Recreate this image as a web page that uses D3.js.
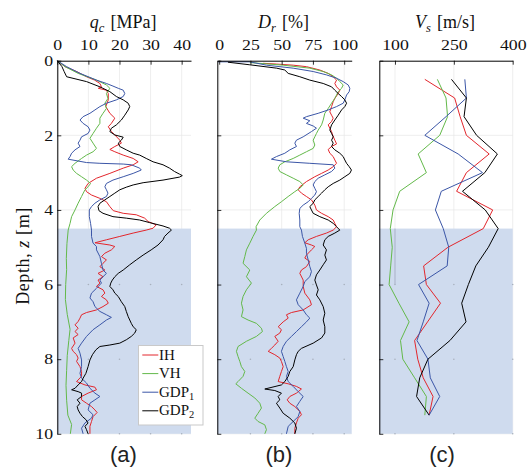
<!DOCTYPE html>
<html><head><meta charset="utf-8">
<script src="https://cdn.jsdelivr.net/npm/d3@7"></script>
<style>body{margin:0;background:#fff}svg{display:block}</style>
</head><body>
<script>
// ---------- DATA ----------
const depthTicks = [0, 2, 4, 6, 8, 10];
const qcTicks = [0, 10, 20, 30, 40];
const drTicks = [0, 25, 50, 75, 100];
const vsTicks = [100, 250, 400];
const layerDepth = [4.5, 10];
const seriesNames = ["IH", "VH", "GDP1", "GDP2"];

// q_c [MPa]  : [depth, value]
const qcIH = [[0,0],[0.16,2.5],[0.29,6.2],[0.43,9.4],[0.52,12.0],[0.61,13.7],[0.70,14.2],[0.74,13.2],[0.79,15.8],[0.88,16.4],[1.05,16.4],[1.23,15.6],[1.41,16.9],[1.54,18.5],[1.68,17.4],[1.77,16.4],[1.90,17.4],[1.99,18.5],[2.13,20.1],[2.21,20.6],[2.30,18.5],[2.38,16.9],[2.44,18.5],[2.53,21.2],[2.62,24.4],[2.71,26.0],[2.79,24.4],[2.88,21.2],[3.02,16.9],[3.15,12.6],[3.29,9.9],[3.42,8.9],[3.51,9.4],[3.60,11.0],[3.69,13.7],[3.78,15.8],[3.91,16.9],[4.02,18.0],[4.09,21.2],[4.13,25.4],[4.22,28.1],[4.31,29.2],[4.40,31.8],[4.49,30.8],[4.54,28.6],[4.62,24.4],[4.71,20.1],[4.80,15.8],[4.88,12.1],[4.94,16.9],[4.98,18.5],[5.07,17.4],[5.16,15.3],[5.25,14.2],[5.34,15.8],[5.43,14.7],[5.52,13.7],[5.61,15.3],[5.70,13.1],[5.79,14.7],[5.88,13.1],[5.96,13.7],[6.05,12.6],[6.14,14.7],[6.23,15.3],[6.32,14.2],[6.41,15.8],[6.50,16.4],[6.59,14.7],[6.68,12.6],[6.75,9.4],[6.81,7.8],[6.90,7.3],[6.99,6.7],[7.08,5.7],[7.17,6.7],[7.26,5.7],[7.34,6.7],[7.43,5.1],[7.57,5.7],[7.71,4.6],[7.79,5.1],[7.88,6.2],[7.97,6.7],[8.06,6.2],[8.20,7.3],[8.33,7.8],[8.46,7.8],[8.60,6.2],[8.69,8.9],[8.75,12.1],[8.82,12.6],[8.91,9.9],[9.00,7.8],[9.09,7.8],[9.18,9.4],[9.27,11.0],[9.36,12.1],[9.43,12.8],[9.54,11.5],[9.67,11.0],[9.80,10.5],[10.0,10.5]];
const qcVH = [[0,0],[0.16,2.5],[0.34,6.7],[0.52,12.6],[0.65,15.8],[0.74,16.9],[0.88,15.8],[1.01,16.3],[1.14,15.3],[1.28,15.8],[1.41,14.7],[1.54,13.7],[1.68,13.7],[1.81,12.6],[1.95,11.5],[2.08,10.5],[2.21,11.5],[2.35,12.6],[2.44,11.5],[2.53,9.4],[2.62,7.8],[2.75,5.7],[2.84,4.6],[2.93,5.1],[3.02,6.2],[3.11,7.8],[3.20,9.4],[3.29,10.7],[3.38,9.9],[3.46,8.9],[3.64,7.8],[3.82,6.7],[4.00,5.7],[4.18,4.6],[4.36,4.1],[4.54,3.5],[4.90,3.1],[5.30,2.9],[5.60,3.0],[6.00,2.7],[6.40,2.6],[6.80,3.2],[7.20,4.1],[7.50,3.7],[7.90,3.2],[8.30,3.0],[8.70,2.8],[9.10,3.0],[9.50,3.4],[9.75,4.6],[10.0,4.2]];
const qcGDP1 = [[0,0],[0.16,3.0],[0.34,7.3],[0.52,12.6],[0.61,15.8],[0.68,17.9],[0.74,19.6],[0.79,21.2],[0.88,21.7],[0.96,21.2],[1.05,19.0],[1.14,15.8],[1.23,13.7],[1.32,12.1],[1.41,10.5],[1.50,8.3],[1.59,7.3],[1.68,8.3],[1.77,9.9],[1.86,10.5],[1.95,9.9],[2.04,7.8],[2.13,7.3],[2.21,6.7],[2.30,7.3],[2.39,5.7],[2.48,4.6],[2.57,4.1],[2.64,3.5],[2.73,9.4],[2.75,13.7],[2.77,21.2],[2.79,23.8],[2.88,26.5],[2.93,27.0],[3.02,24.4],[3.11,21.2],[3.20,17.9],[3.29,15.8],[3.38,15.3],[3.46,15.8],[3.55,16.3],[3.64,15.8],[3.73,13.7],[3.82,12.1],[3.91,11.0],[4.00,10.3],[4.18,10.3],[4.36,10.7],[4.54,11.0],[4.71,11.0],[4.89,11.5],[4.98,12.6],[5.07,12.6],[5.25,13.7],[5.43,14.2],[5.61,14.7],[5.70,15.8],[5.79,14.7],[5.88,13.7],[5.96,14.2],[6.10,12.6],[6.23,11.0],[6.36,10.5],[6.46,11.5],[6.59,12.1],[6.72,13.7],[6.81,15.8],[6.88,17.4],[6.95,15.8],[7.08,13.7],[7.21,11.5],[7.39,9.4],[7.57,7.8],[7.71,6.7],[7.84,7.3],[8.02,7.8],[8.20,7.8],[8.38,7.3],[8.51,7.8],[8.64,9.4],[8.78,10.5],[8.91,12.1],[9.00,13.7],[9.09,12.1],[9.18,10.5],[9.36,9.9],[9.49,11.5],[9.58,11.0],[9.71,8.9],[9.85,7.8],[10.0,8.3]];
const qcGDP2 = [[0,0],[0.16,1.5],[0.29,2.2],[0.43,3.0],[0.56,9.4],[0.70,13.7],[0.83,16.9],[0.96,19.0],[1.05,21.2],[1.14,22.8],[1.23,23.3],[1.32,22.8],[1.46,21.7],[1.59,20.6],[1.72,19.0],[1.81,17.4],[1.90,16.9],[1.99,18.5],[2.05,21.2],[2.13,20.6],[2.21,19.6],[2.30,20.1],[2.39,22.2],[2.48,24.4],[2.53,26.5],[2.62,28.6],[2.71,30.8],[2.79,34.0],[2.88,36.1],[2.97,37.7],[3.04,39.3],[3.08,40.2],[3.12,39.3],[3.20,34.0],[3.27,27.6],[3.33,24.4],[3.39,22.2],[3.46,20.1],[3.55,18.5],[3.64,16.9],[3.73,15.3],[3.82,13.7],[3.91,13.1],[4.02,13.4],[4.09,14.7],[4.18,17.9],[4.22,22.2],[4.27,26.5],[4.34,29.7],[4.43,34.0],[4.49,36.1],[4.54,36.7],[4.62,35.6],[4.71,34.5],[4.80,34.0],[4.94,32.4],[5.07,30.2],[5.21,27.6],[5.34,25.4],[5.47,23.3],[5.61,21.2],[5.70,19.6],[5.79,18.5],[5.88,17.7],[5.96,17.2],[6.05,16.9],[6.14,17.9],[6.23,18.5],[6.32,19.6],[6.46,20.6],[6.59,21.7],[6.72,22.2],[6.86,22.8],[7.04,23.8],[7.13,24.4],[7.21,25.4],[7.30,24.9],[7.39,23.8],[7.48,22.2],[7.57,20.1],[7.62,16.9],[7.66,13.7],[7.75,12.4],[7.88,11.3],[8.02,10.5],[8.20,9.9],[8.38,9.2],[8.51,8.3],[8.60,7.8],[8.69,6.7],[8.78,5.7],[8.82,4.6],[8.87,6.7],[8.91,7.8],[9.00,7.8],[9.09,6.4],[9.18,7.3],[9.27,6.4],[9.36,6.7],[9.45,7.3],[9.54,8.1],[9.62,9.2],[9.71,9.9],[9.80,8.9],[9.89,9.4],[10.0,9.9]];

// D_r [%] : [depth, value]
const drIH = [[0.07,35.1],[0.09,45.8],[0.12,59.2],[0.16,69.8],[0.25,80.5],[0.34,87.2],[0.43,91.2],[0.52,93.9],[0.61,92.5],[0.70,93.9],[0.79,96.5],[0.88,95.2],[1.01,92.5],[1.10,91.2],[1.23,89.9],[1.37,88.5],[1.46,89.9],[1.54,91.2],[1.63,89.9],[1.72,87.2],[1.81,88.5],[1.90,89.9],[1.99,90.7],[2.13,92.5],[2.23,93.9],[2.30,89.9],[2.38,87.2],[2.48,88.5],[2.57,91.2],[2.66,92.5],[2.75,93.9],[2.84,91.2],[2.93,87.2],[3.02,81.9],[3.11,76.5],[3.24,69.8],[3.38,64.5],[3.46,63.2],[3.55,65.8],[3.64,69.8],[3.73,73.8],[3.87,76.5],[4.00,77.8],[4.09,81.9],[4.18,87.2],[4.27,91.2],[4.36,92.5],[4.45,93.9],[4.54,91.2],[4.62,85.8],[4.71,77.8],[4.80,71.2],[4.88,68.5],[4.94,73.8],[4.98,76.5],[5.07,73.8],[5.21,69.8],[5.29,68.5],[5.38,72.5],[5.52,69.8],[5.61,65.8],[5.70,64.5],[5.88,67.2],[6.05,67.2],[6.23,68.5],[6.41,72.5],[6.54,73.8],[6.68,67.2],[6.75,57.8],[6.81,53.8],[6.90,55.2],[7.00,51.2],[7.13,47.2],[7.21,49.8],[7.30,48.5],[7.39,44.5],[7.52,47.2],[7.62,44.5],[7.71,41.8],[7.79,39.2],[7.88,44.5],[7.97,48.5],[8.06,49.8],[8.20,51.2],[8.33,49.8],[8.46,48.5],[8.60,47.2],[8.66,55.2],[8.73,61.8],[8.80,65.8],[8.91,61.8],[9.00,56.5],[9.09,54.4],[9.18,56.5],[9.27,60.5],[9.40,64.5],[9.49,65.8],[9.58,63.2],[9.71,61.8],[9.85,60.5],[10.0,60.5]];
const drVH = [[0.05,24.5],[0.12,51.2],[0.20,72.5],[0.29,83.2],[0.38,89.9],[0.47,93.9],[0.56,96.5],[0.65,99.2],[0.74,97.9],[0.83,95.2],[0.92,93.9],[1.01,92.5],[1.14,89.9],[1.28,87.2],[1.41,84.5],[1.59,83.2],[1.72,81.9],[1.86,79.2],[1.95,77.8],[2.04,76.5],[2.13,75.2],[2.26,76.5],[2.35,75.2],[2.44,69.8],[2.53,64.5],[2.62,59.2],[2.71,52.5],[2.79,48.5],[2.88,47.2],[2.97,48.5],[3.06,53.8],[3.15,59.2],[3.24,64.5],[3.33,67.2],[3.42,64.5],[3.51,60.5],[3.64,55.2],[3.78,49.8],[3.91,44.5],[4.09,37.8],[4.27,32.5],[4.45,29.5],[4.54,29.8],[4.71,27.1],[4.89,24.5],[5.07,21.8],[5.25,20.5],[5.43,19.1],[5.61,24.5],[5.79,21.8],[5.96,25.8],[6.14,21.8],[6.32,19.1],[6.50,17.8],[6.68,19.1],[6.86,17.8],[6.95,23.1],[7.04,29.8],[7.17,33.8],[7.26,34.6],[7.39,29.8],[7.52,21.8],[7.66,15.1],[7.79,13.8],[7.93,15.1],[8.06,16.5],[8.20,17.8],[8.33,20.5],[8.46,19.1],[8.60,15.1],[8.66,13.3],[8.78,17.8],[8.91,23.1],[9.04,28.5],[9.18,32.5],[9.31,33.8],[9.45,31.1],[9.58,28.5],[9.67,31.1],[9.76,36.5],[9.89,37.8],[10.0,36.5]];
const drGDP1 = [[0.03,-1.0],[0.03,24.5],[0.12,37.8],[0.20,59.2],[0.29,75.2],[0.38,85.8],[0.47,93.9],[0.56,99.2],[0.65,103.2],[0.74,104.5],[0.83,104.0],[0.92,101.9],[1.05,100.5],[1.14,99.2],[1.23,93.9],[1.32,87.2],[1.41,79.2],[1.50,69.8],[1.54,67.2],[1.61,72.5],[1.68,69.8],[1.75,75.2],[1.81,77.8],[1.90,73.8],[2.04,67.2],[2.13,61.8],[2.21,60.5],[2.30,61.8],[2.39,56.5],[2.48,52.5],[2.57,45.8],[2.64,41.8],[2.71,53.8],[2.75,72.5],[2.79,91.2],[2.88,92.5],[2.97,89.9],[3.06,84.5],[3.15,79.2],[3.24,76.5],[3.33,75.2],[3.42,76.5],[3.51,77.8],[3.60,76.5],[3.69,73.8],[3.78,71.2],[3.87,67.2],[3.96,64.5],[4.09,64.0],[4.27,64.5],[4.45,64.5],[4.54,65.8],[4.71,66.6],[4.89,68.5],[5.03,69.8],[5.16,69.8],[5.34,71.2],[5.52,72.5],[5.65,73.8],[5.79,72.5],[5.92,68.5],[6.05,67.2],[6.23,64.5],[6.41,61.8],[6.54,63.2],[6.68,67.2],[6.81,69.8],[6.90,72.5],[7.00,69.8],[7.13,65.8],[7.26,61.8],[7.39,57.8],[7.52,53.8],[7.66,51.2],[7.79,49.8],[7.93,51.2],[8.06,52.5],[8.20,53.8],[8.33,55.2],[8.46,53.8],[8.60,55.2],[8.73,59.2],[8.87,63.2],[9.00,67.2],[9.13,64.5],[9.27,61.8],[9.40,64.5],[9.54,63.2],[9.67,59.2],[9.80,55.2],[10.0,53.8]];
const drGDP2 = [[0.04,7.0],[0.11,24.5],[0.20,46.0],[0.25,52.5],[0.34,55.2],[0.43,64.5],[0.52,72.5],[0.61,83.2],[0.70,89.9],[0.79,92.5],[0.88,95.2],[0.96,97.9],[1.05,100.5],[1.14,101.9],[1.23,100.5],[1.32,97.9],[1.46,95.2],[1.59,92.5],[1.72,89.9],[1.86,88.5],[1.95,89.9],[2.04,91.2],[2.13,89.9],[2.21,91.2],[2.30,89.9],[2.39,92.5],[2.48,96.5],[2.57,99.2],[2.66,100.5],[2.75,101.9],[2.84,104.0],[2.93,105.8],[3.02,104.5],[3.11,100.5],[3.20,96.5],[3.29,91.2],[3.38,87.2],[3.46,84.5],[3.55,81.9],[3.64,79.2],[3.73,76.5],[3.82,75.2],[3.91,72.5],[4.00,73.8],[4.09,75.2],[4.18,80.5],[4.27,87.2],[4.36,91.2],[4.45,93.9],[4.54,96.5],[4.62,92.5],[4.71,87.2],[4.80,84.5],[4.94,83.2],[5.07,85.8],[5.21,84.5],[5.34,85.8],[5.47,83.2],[5.61,80.5],[5.74,77.8],[5.88,76.5],[6.01,77.8],[6.14,79.2],[6.28,77.8],[6.41,80.5],[6.59,83.2],[6.77,84.5],[6.95,83.2],[7.13,84.5],[7.30,84.5],[7.43,81.9],[7.57,75.2],[7.71,65.8],[7.79,63.2],[7.88,61.8],[8.02,60.5],[8.20,59.2],[8.33,56.5],[8.46,55.2],[8.60,52.5],[8.69,49.8],[8.80,36.5],[8.84,44.5],[8.91,49.8],[9.00,47.2],[9.09,48.5],[9.18,45.8],[9.31,48.5],[9.45,51.2],[9.58,56.5],[9.71,60.5],[9.85,61.8],[10.0,60.5]];

// V_s [m/s] at depths every 0.5 m
const vsDepth = [0.5,1.0,1.5,2.0,2.5,3.0,3.5,4.0,4.5,5.0,5.5,6.0,6.5,7.0,7.5,8.0,8.5,9.0,9.5];
const vsIH   = [176,252,266,282,340,282,257,349,325,235,173,180,216,183,150,158,172,197,187];
const vsVH   = [208,230,234,214,159,180,112,95,88,93,89,85,110,136,114,120,150,180,176];
const vsGDP1 = [278,282,230,176,261,323,218,203,223,237,233,160,187,172,156,184,190,214,187];
const vsGDP2 = [244,282,276,308,361,329,272,330,363,338,306,287,270,281,240,184,163,155,187];
const vsRef = [[4.5,100],[6.0,100]];

// ---------- DRAWING ----------
const colors = {IH:"#e3262c", VH:"#63b94a", GDP1:"#3b56a7", GDP2:"#000000"};
const W = 528, H = 468;
const serif = "'Liberation Serif','Times New Roman',serif";
const sans = "'Liberation Sans',Arial,sans-serif";
const svg = d3.select("body").append("svg").attr("width", W).attr("height", H)
  .attr("font-family", serif);

const y = d3.scaleLinear().domain([0, 10]).range([60.7, 433.8]);
const toPairs = vals => vsDepth.map((d, i) => [d, vals[i]]);

const panels = [
  {x0:57.3, x1:191, domain:[0,43], ticks:qcTicks, series:[qcIH,qcVH,qcGDP1,qcGDP2],
   title:["q","c","[MPa]"], label:"(a)", lx:123.5, showY:true},
  {x0:217.3, x1:351.7, domain:[-1.5,106], ticks:drTicks, series:[drIH,drVH,drGDP1,drGDP2],
   title:["D","r","[%]"], label:"(b)", lx:279, showY:false},
  {x0:379.3, x1:512.7, domain:[60,400], ticks:vsTicks,
   series:[toPairs(vsIH),toPairs(vsVH),toPairs(vsGDP1),toPairs(vsGDP2)],
   title:["V","s","[m/s]"], label:"(c)", lx:442, showY:false, ref:vsRef}
];

panels.forEach(p => {
  const x = d3.scaleLinear().domain(p.domain).range([p.x0, p.x1]);
  const g = svg.append("g");
  // grid
  g.selectAll(".vg").data(p.ticks).join("line")
    .attr("x1", d => x(d)).attr("x2", d => x(d)).attr("y1", y(0)).attr("y2", y(10))
    .attr("stroke", "#e6e6e6").attr("stroke-width", 0.7);
  g.selectAll(".hg").data(depthTicks.slice(1)).join("line")
    .attr("x1", p.x0).attr("x2", p.x1).attr("y1", d => y(d)).attr("y2", d => y(d))
    .attr("stroke", "#e6e6e6").attr("stroke-width", 0.7);
  // shaded layer
  g.append("rect").attr("x", p.x0).attr("y", y(layerDepth[0]))
    .attr("width", p.x1 - p.x0).attr("height", y(layerDepth[1]) - y(layerDepth[0]))
    .attr("fill", "#cfdbee");
  // grid dots in shaded layer
  const dots = [];
  p.ticks.forEach(t => [6, 8, 10].forEach(d => { if (x(t) > p.x0 + 2) dots.push([t, d]); }));
  g.selectAll(".dot").data(dots).join("circle")
    .attr("cx", d => x(d[0])).attr("cy", d => y(d[1])).attr("r", 0.8).attr("fill", "#a8b0bd");
  if (p.ref) {
    g.append("path").datum(p.ref)
      .attr("d", d3.line().x(d => x(d[1])).y(d => y(d[0])))
      .attr("fill", "none").attr("stroke", "#a9b2c6").attr("stroke-width", 1);
  }
  // series
  const line = d3.line().x(d => x(d[1])).y(d => y(d[0]));
  p.series.forEach((s, i) => {
    g.append("path").datum(s).attr("d", line).attr("fill", "none")
      .attr("stroke", colors[seriesNames[i]]).attr("stroke-width", 1)
      .attr("stroke-linejoin", "round");
  });
  // axes
  const top = d3.axisTop(x).tickValues(p.ticks).tickSizeInner(-4).tickSizeOuter(0).tickPadding(10.7);
  const ga = svg.append("g").attr("transform", `translate(0,${y(0)})`).call(top);
  ga.select(".domain").attr("stroke", "#000").attr("stroke-width", 1);
  ga.selectAll(".tick line").attr("stroke", "#000").attr("stroke-width", 0.8);
  ga.selectAll("text").attr("font-family", serif).attr("font-size", 14.8).attr("fill", "#111")
    .attr("transform", "scale(1.2,1)");
  const left = d3.axisLeft(y).tickValues(depthTicks).tickSizeInner(-4).tickSizeOuter(0).tickPadding(3.5);
  if (!p.showY) left.tickFormat("");
  const gl = svg.append("g").attr("transform", `translate(${p.x0},0)`).call(left);
  gl.select(".domain").attr("stroke", "#000").attr("stroke-width", 1);
  gl.selectAll(".tick line").attr("stroke", "#000").attr("stroke-width", 0.8);
  gl.selectAll("text").attr("font-family", serif).attr("font-size", 14.8).attr("fill", "#111")
    .attr("transform", "scale(1.2,1)");
  // title
  const cx = (p.x0 + p.x1) / 2 - 1;
  const t = svg.append("text").attr("x", cx).attr("y", 28).attr("text-anchor", "middle")
    .attr("font-size", 18).attr("fill", "#111");
  t.append("tspan").attr("font-style", "italic").text(p.title[0]);
  t.append("tspan").attr("font-style", "italic").attr("font-size", 12.5).attr("dy", 3.5).text(p.title[1]);
  t.append("tspan").attr("dy", -3.5).attr("dx", 6).text(p.title[2]);
  // panel label
  svg.append("text").attr("x", p.lx).attr("y", 462).attr("text-anchor", "middle")
    .attr("font-family", sans).attr("font-size", 22).attr("fill", "#222").text(p.label);
});

// y title
const yt = svg.append("text").attr("transform", "translate(29,256) rotate(-90)")
  .attr("text-anchor", "middle").attr("font-size", 18).attr("fill", "#111")
  .attr("letter-spacing", 0.6);
yt.append("tspan").text("Depth, ");
yt.append("tspan").attr("font-style", "italic").text("z");
yt.append("tspan").text(" [m]");

// legend
const lg = svg.append("g");
lg.append("rect").attr("x", 138.5).attr("y", 345.5).attr("width", 64.5).attr("height", 79.5)
  .attr("fill", "#fff").attr("stroke", "#c9c9c9").attr("stroke-width", 1);
const legendLabels = [["IH",""],["VH",""],["GDP","1"],["GDP","2"]];
seriesNames.forEach((n, i) => {
  const ly = 355 + i * 18.6;
  lg.append("line").attr("x1", 142.3).attr("x2", 158.3).attr("y1", ly).attr("y2", ly)
    .attr("stroke", colors[n]).attr("stroke-width", 1);
  const tx = lg.append("text").attr("x", 159).attr("y", ly + 4.5).attr("font-size", 15).attr("fill", "#111");
  tx.append("tspan").text(legendLabels[i][0]);
  if (legendLabels[i][1]) tx.append("tspan").attr("font-size", 10.5).attr("dy", 3).text(legendLabels[i][1]);
});
</script>
</body></html>
